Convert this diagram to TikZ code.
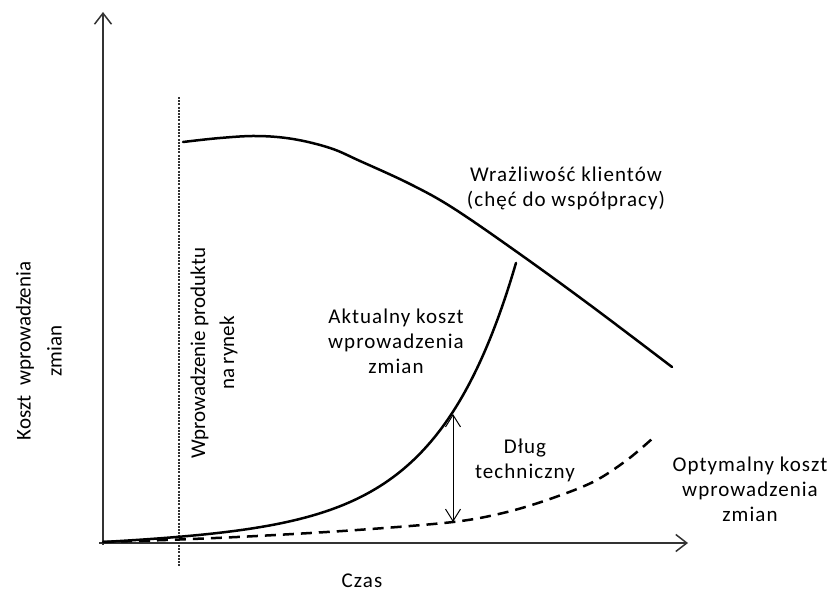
\documentclass[tikz,border=0pt]{standalone}
\usepackage{fontspec}
\setmainfont{Carlito}
\newfontfamily\lblfont{Carlito}[LetterSpace=5]
\newfontfamily\rotfont{Carlito}
\usetikzlibrary{arrows.meta}
\tikzset{
  axis/.style={draw=black!80, line width=1.5pt, -{Straight Barb[length=11pt,width=17pt,line width=1.5pt]}},
  curve/.style={draw=black, line width=2.5pt, line cap=round},
  dcurve/.style={draw=black, line width=2.5pt, dash pattern=on 11pt off 7pt},
  dotline/.style={draw=black!80, line width=1.2pt, dash pattern=on 2pt off 1.2pt},
  gap/.style={draw=black, line width=1pt, {Straight Barb[length=12pt,width=15pt,line width=1pt]}-{Straight Barb[length=12pt,width=15pt,line width=1pt]}},
  lbl/.style={font=\lblfont\fontsize{21}{25}\selectfont, align=center, inner sep=0pt, text=black},
  rlbl/.style={font=\rotfont\fontsize{21}{25}\selectfont, align=center, inner sep=0pt, text=black, rotate=90},
}
\begin{document}
\begin{tikzpicture}[x=1pt,y=-1pt]
\useasboundingbox (0,0) rectangle (834,594);
% axes
\coordinate (O) at (103,543);
\coordinate (ytop) at (103,12);
\coordinate (xleft) at (99,543);
\coordinate (xend) at (688,543);
\coordinate (ybot) at (103,545);
\draw[axis] (ybot) -- (ytop);
\draw[axis] (xleft) -- (xend);
% launch line
\coordinate (L1) at (179,97);
\coordinate (L2) at (179,567);
\draw[dotline] (L1) -- (L2);
% customer sensitivity
\draw[curve] plot[smooth, tension=0.6] coordinates {(183,142) (220,138) (257,136) (293,139) (330,148) (360,161) (410,184) (453,208) (517,252) (590,305) (672,367)};
% actual cost
\draw[curve] plot[domain=103:516, samples=90, smooth] (\x, {542 - 1.324*(exp((\x-103)/78)-1) - 0.04*(\x-103)});
% optimal cost
\draw[dcurve] plot[smooth, tension=0.55] coordinates {(103,542) (179,539.5) (257,536) (357,530) (453,522) (503,513) (547,500) (593,482) (627,460) (653,438)};
% technical debt arrow
\coordinate (d1) at (453,414);
\coordinate (d2) at (453,522);
\draw[gap] (d1) -- (d2);
% labels
\node[lbl] (sens) at (566,188) {Wrażliwość klientów\\(chęć do współpracy)};
\node[lbl] (act) at (396,341) {Aktualny koszt\\wprowadzenia\\zmian};
\node[lbl] (debt) at (525,460) {Dług\\techniczny};
\node[lbl] (opt) at (750,489) {Optymalny koszt\\wprowadzenia\\zmian};
\node[lbl] (czas) at (362,581) {Czas};
\node[rlbl] (ylab) at (39,351) {Koszt\ \ wprowadzenia\\[6pt]zmian};
\node[rlbl] (launch) at (214,353) {Wprowadzenie produktu\\[4pt]na rynek};
\end{tikzpicture}
\end{document}
